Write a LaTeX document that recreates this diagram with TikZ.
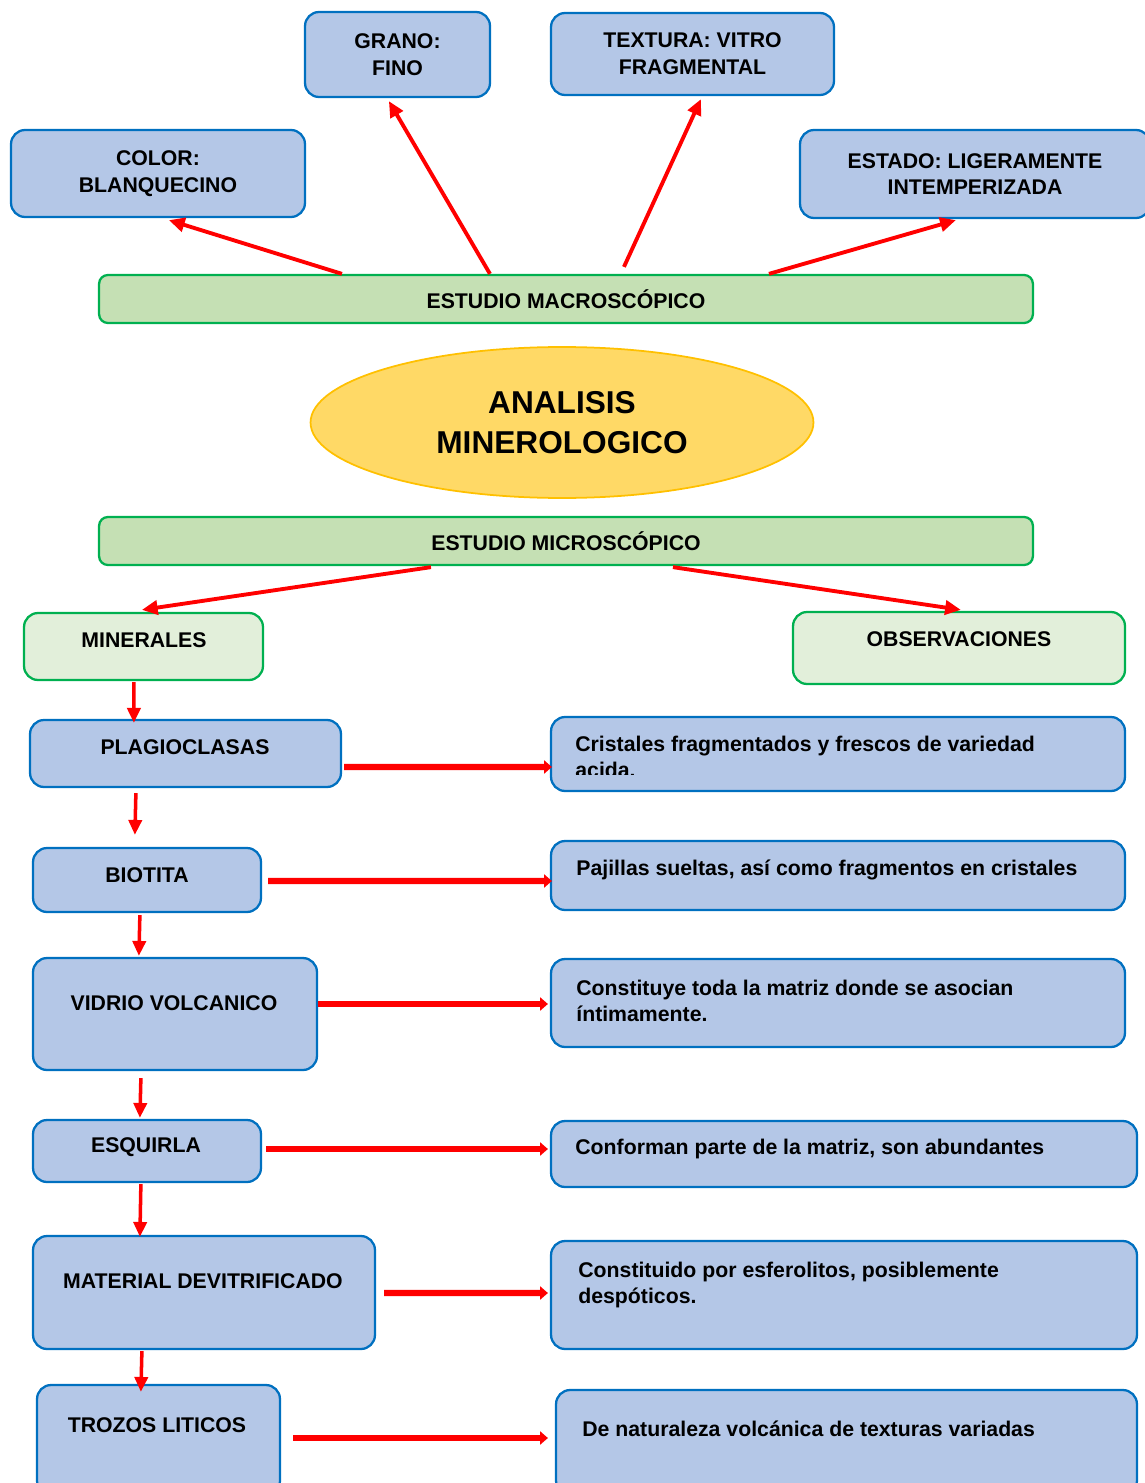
\documentclass[tikz,border=0pt]{standalone}
\usepackage{fontspec}
\setmainfont{Liberation Sans}
\usetikzlibrary{arrows.meta,shapes.geometric,calc}

\definecolor{boxfill}{HTML}{B4C7E7}
\definecolor{boxline}{HTML}{0070C0}
\definecolor{greenfill}{HTML}{C5E0B4}
\definecolor{greenline}{HTML}{00B050}
\definecolor{palegreen}{HTML}{E2EFDA}
\definecolor{ovalfill}{HTML}{FFD966}
\definecolor{ovalline}{HTML}{FFC000}

\tikzset{
  box/.style={draw=boxline,fill=boxfill,line width=1.3pt,rounded corners=8pt,inner sep=0pt},
  study/.style={draw=greenline,fill=greenfill,line width=1.3pt,rounded corners=5pt,inner sep=0pt},
  group/.style={draw=greenline,fill=palegreen,line width=1.3pt,rounded corners=8pt,inner sep=0pt},
  txt/.style={font=\bfseries\fontsize{12.1}{15.2}\selectfont,align=center,inner sep=0pt},
  note/.style={txt,align=left,anchor=west},
  link/.style={draw=red,line width=2.2pt,-{Triangle[length=9pt,width=8pt]}},
  down/.style={draw=red,line width=2pt,-{Triangle[length=8.5pt,width=7.5pt]}},
  across/.style={draw=red,line width=3.6pt,-{Triangle[length=4.5pt,width=7.5pt]}}
}

\begin{document}
\begin{tikzpicture}[x=0.02cm,y=-0.02cm]
  \useasboundingbox (0,0) rectangle (1145,1483);

  \node[box,txt,minimum width=5.88cm,minimum height=1.74cm] (color) at (158,173.5) {COLOR:\\BLANQUECINO};
  \node[box,txt,minimum width=3.7cm,minimum height=1.7cm] (grano) at (397.5,54.5) {GRANO:\\FINO};
  \node[box,txt,minimum width=5.66cm,minimum height=1.64cm] (textura) at (692.5,54) {TEXTURA: VITRO\\FRAGMENTAL};
  \node[box,txt,minimum width=7cm,minimum height=1.76cm] (estado) at (975,174) {ESTADO: LIGERAMENTE\\INTEMPERIZADA};

  \node[study,txt,minimum width=18.68cm,minimum height=0.96cm] (macro) at (566,299) {ESTUDIO MACROSCÓPICO};

  \node[ellipse,draw=ovalline,fill=ovalfill,line width=1pt,inner sep=0pt,
    minimum width=10.06cm,minimum height=3.02cm,align=center,
    font=\bfseries\fontsize{18}{22.7}\selectfont] (analisis) at (562,422.5) {ANALISIS\\MINEROLOGICO};

  \node[study,txt,minimum width=18.68cm,minimum height=0.96cm] (micro) at (566,541) {ESTUDIO MICROSCÓPICO};

  \node[group,minimum width=4.78cm,minimum height=1.34cm] (minerales) at (143.5,646.5) {};
  \node[txt] (minerales-t) at (144,640) {MINERALES};
  \node[group,minimum width=6.64cm,minimum height=1.44cm] (observ) at (959,648) {};
  \node[txt] (observ-t) at (959,639) {OBSERVACIONES};

  \node[box,minimum width=6.22cm,minimum height=1.34cm] (plagio) at (185.5,753.5) {};
  \node[txt] (plagio-t) at (185,747) {PLAGIOCLASAS};
  \node[box,minimum width=4.56cm,minimum height=1.28cm] (biotita) at (147,880) {};
  \node[txt] (biotita-t) at (147,875) {BIOTITA};
  \node[box,minimum width=5.68cm,minimum height=2.24cm] (vidrio) at (175,1014) {};
  \node[txt] (vidrio-t) at (174,1003) {VIDRIO VOLCANICO};
  \node[box,minimum width=4.56cm,minimum height=1.24cm] (esquirla) at (147,1151) {};
  \node[txt] (esquirla-t) at (146,1147) {ESQUIRLA};
  \node[box,minimum width=6.84cm,minimum height=2.26cm] (material) at (204,1292.5) {};
  \node[txt] (material-t) at (203,1281) {MATERIAL DEVITRIFICADO};
  \node[box,minimum width=4.86cm,minimum height=2.2cm] (trozos) at (158.5,1440) {};
  \node[txt] (trozos-t) at (157,1425) {TROZOS LITICOS};

  \node[box,minimum width=11.48cm,minimum height=1.48cm] (obs1) at (838,754) {};
  \begin{scope}
    \clip (551,717) rectangle (1125,774);
    \node[note] (obs1-t) at (575,757) {Cristales fragmentados y frescos de variedad\\acida.};
  \end{scope}
  \node[box,minimum width=11.48cm,minimum height=1.38cm] (obs2) at (838,875.5) {};
  \node[note] (obs2-t) at (576,869.5) {Pajillas sueltas, así como fragmentos en cristales};
  \node[box,minimum width=11.48cm,minimum height=1.76cm] (obs3) at (838,1003) {};
  \node[note] (obs3-t) at (576,1001) {Constituye toda la matriz donde se asocian\\íntimamente.};
  \node[box,minimum width=11.72cm,minimum height=1.32cm] (obs4) at (844,1154) {};
  \node[note] (obs4-t) at (575,1149) {Conforman parte de la matriz, son abundantes};
  \node[box,minimum width=11.72cm,minimum height=2.16cm] (obs5) at (844,1295) {};
  \node[note] (obs5-t) at (578,1285) {Constituido por esferolitos, posiblemente\\despóticos.};
  \node[box,minimum width=11.62cm,minimum height=2.1cm] (obs6) at (846.5,1442.5) {};
  \node[note] (obs6-t) at (582,1429) {De naturaleza volcánica de texturas variadas};

  \draw[link] ($(macro.north west)+(244,0)$) -- ($(color.south west)+(159,2)$);
  \draw[link] ($(macro.north west)+(392,0)$) -- ($(grano.south west)+(85,3)$);
  \draw[link] ($(macro.north west)+(526,-7)$) -- ($(textura.south west)+(151,3)$);
  \draw[link] ($(macro.north west)+(671,0)$) -- ($(estado.south west)+(157,1)$);

  \draw[link] ($(micro.south west)+(333,1)$) -- ($(minerales.north west)+(119,-2)$);
  \draw[link] ($(micro.south west)+(575,1)$) -- ($(observ.north west)+(169,-1)$);

  \draw[down] ($(minerales.south west)+(111,1)$) -- ($(plagio.north west)+(105,4)$);
  \draw[down] ($(plagio.south west)+(107,5)$) -- ($(biotita.north west)+(103,-12)$);
  \draw[down] ($(biotita.south west)+(108,2)$) -- ($(vidrio.north west)+(107,-1)$);
  \draw[down] ($(vidrio.south west)+(109,7)$) -- ($(esquirla.north west)+(108,-1)$);
  \draw[down] ($(esquirla.south west)+(109,1)$) -- ($(material.north west)+(108,2)$);
  \draw[down] ($(material.south west)+(110,1)$) -- ($(trozos.north west)+(105,8)$);

  \draw[across] ($(plagio.east)+(2,13.5)$) -- ($(obs1.west)+(2,13)$);
  \draw[across] ($(biotita.east)+(6,1)$) -- ($(obs2.west)+(2,5.5)$);
  \draw[across] ($(vidrio.east)+(0,-10)$) -- ($(obs3.west)+(-2,1)$);
  \draw[across] ($(esquirla.east)+(4,-2)$) -- ($(obs4.west)+(-2,-5)$);
  \draw[across] ($(material.east)+(8,0.5)$) -- ($(obs5.west)+(-2,-2)$);
  \draw[across] ($(trozos.east)+(12,-2)$) -- ($(obs6.west)+(-7,-4.5)$);
\end{tikzpicture}
\end{document}
